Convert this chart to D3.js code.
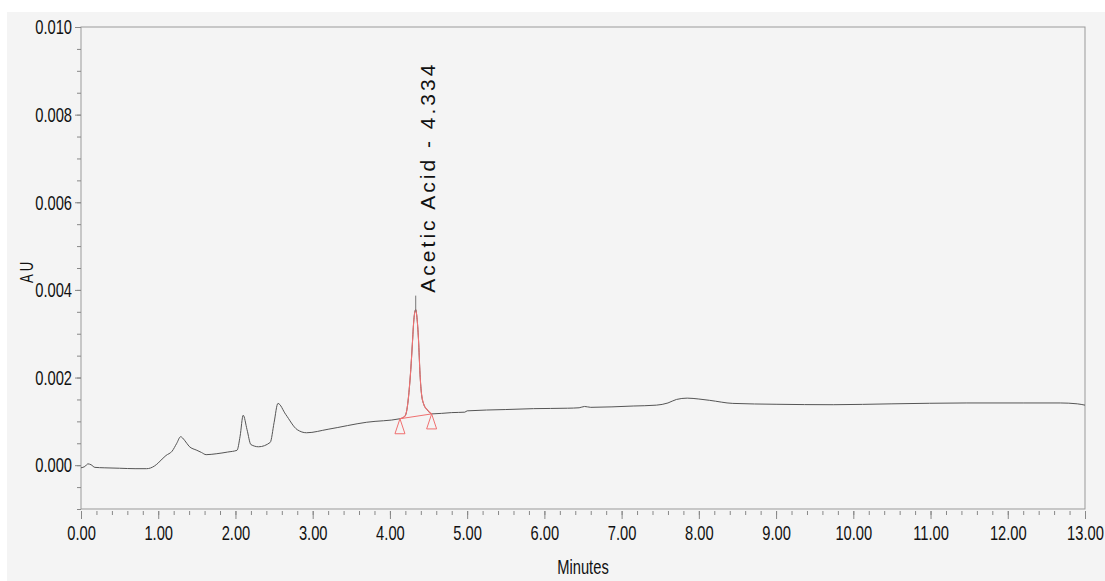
<!DOCTYPE html>
<html>
<head>
<meta charset="utf-8">
<script src="https://cdn.jsdelivr.net/npm/d3@7"></script>
<style>
  html, body { margin: 0; padding: 0; background: #fff; }
  svg { display: block; }
</style>
</head>
<body>
<svg id="chart"></svg>
<script>
// chromatogram trace (minutes, AU)
const times = [0.00, 0.05, 0.09, 0.13, 0.18, 0.30, 0.50, 0.70, 0.85, 0.95,
  1.00, 1.05, 1.10, 1.18, 1.24, 1.29, 1.34, 1.40, 1.50, 1.56, 1.62, 1.75, 1.90,
  2.02, 2.06, 2.10, 2.15, 2.20, 2.30, 2.45, 2.50, 2.55, 2.65, 2.80, 2.92,
  3.20, 3.70, 4.13, 4.195, 4.22, 4.25, 4.27, 4.29, 4.31, 4.334, 4.35, 4.37,
  4.39, 4.41, 4.44, 4.48, 4.54, 4.80, 4.97, 5.00, 5.50, 5.86, 6.30, 6.45,
  6.52, 6.60, 7.15, 7.45, 7.60, 7.71, 7.85, 8.00, 8.14, 8.44, 9.00, 9.74,
  10.50, 11.47, 12.20, 12.68, 12.90, 13.00];
const au = [-0.00006, -0.00003, 0.00003, 0.00001, -0.00005, -0.00006, -0.00007, -0.00008, -0.00008, -0.00002,
  0.00005, 0.00014, 0.00022, 0.00032, 0.00050, 0.00065, 0.00057, 0.00043, 0.00034, 0.00029, 0.00024, 0.00026, 0.00030,
  0.00034, 0.00066, 0.00114, 0.00081, 0.00047, 0.00042, 0.00052, 0.00097, 0.00141, 0.00116, 0.00081, 0.00074,
  0.00082, 0.00098, 0.00106, 0.00112, 0.00127, 0.00173, 0.00218, 0.00275, 0.00332, 0.00355, 0.00337, 0.00287,
  0.00207, 0.00161, 0.00138, 0.00127, 0.00117, 0.00120, 0.00121, 0.00124, 0.00127, 0.00129, 0.00130, 0.00131,
  0.00134, 0.00132, 0.00135, 0.00137, 0.00142, 0.00150, 0.00153, 0.00151, 0.00148, 0.00141, 0.00139, 0.00138,
  0.00140, 0.00142, 0.00142, 0.00142, 0.00140, 0.00137];

// integrated peak
const peakName = "Acetic Acid";
const peakTime = 4.334;
const peakStart = 4.13;
const peakEnd = 4.54;

// axes
const xMajor = d3.range(0, 13.001, 1);
const xMinor = d3.range(0, 13.001, 0.2);
const yMajor = [0, 0.002, 0.004, 0.006, 0.008, 0.010];
const yMinor = d3.range(-0.001, 0.01001, 0.0005);

const width = 1105;
const height = 581;
const margin = { top: 27, right: 20, bottom: 72, left: 81 };

const data = times.map((t, i) => ({ t: t, v: au[i] }));

const svg = d3.select("#chart").attr("width", width).attr("height", height);

// grey panel
svg.append("rect")
  .attr("x", 7).attr("y", 12)
  .attr("width", width - 7).attr("height", height - 12)
  .attr("fill", "#f4f4f4");

const xScale = d3.scaleLinear()
  .domain([0, 13])
  .range([margin.left, width - margin.right]);

const yScale = d3.scaleLinear()
  .domain([-0.001, 0.010])
  .range([height - margin.bottom, margin.top]);

const sans = "'Liberation Sans', Arial, sans-serif";

// frame
svg.append("rect")
  .attr("x", xScale(0)).attr("y", yScale(0.010))
  .attr("width", xScale(13) - xScale(0))
  .attr("height", yScale(-0.001) - yScale(0.010))
  .attr("fill", "none")
  .attr("stroke", "#999")
  .attr("stroke-width", 1);

// x axis (ticks sit a little below the frame)
const xg = svg.append("g")
  .attr("transform", `translate(0, ${height - margin.bottom + 2})`);
xg.append("g")
  .call(d3.axisBottom(xScale).tickValues(xMinor).tickSize(4).tickFormat(""))
  .call((g) => g.select(".domain").remove());
xg.append("g")
  .call(d3.axisBottom(xScale).tickValues(xMajor).tickSize(8).tickPadding(6)
    .tickFormat(d3.format(".2f")))
  .call((g) => g.select(".domain").remove());

// y axis
const yg = svg.append("g").attr("transform", `translate(${margin.left}, 0)`);
yg.append("g")
  .call(d3.axisLeft(yScale).tickValues(yMinor).tickSize(4).tickFormat(""))
  .call((g) => g.select(".domain").remove());
yg.append("g")
  .call(d3.axisLeft(yScale).tickValues(yMajor).tickSize(6).tickPadding(3)
    .tickFormat(d3.format(".3f")))
  .call((g) => g.select(".domain").remove());

svg.selectAll(".tick line").attr("stroke", "#888");
svg.selectAll(".tick text")
  .attr("fill", "#111")
  .style("font-family", sans)
  .style("font-size", "21px");

// axis titles
svg.append("text")
  .attr("x", (xScale(0) + xScale(13)) / 2)
  .attr("y", height - 7)
  .attr("text-anchor", "middle")
  .attr("fill", "#111")
  .style("font-family", sans)
  .style("font-size", "21px")
  .text("Minutes");

// condensed look: squeeze the glyphs horizontally
svg.selectAll("text").each(function () {
  if (this.textContent.length) {
    const w = this.getComputedTextLength();
    d3.select(this).attr("textLength", w * 0.7).attr("lengthAdjust", "spacingAndGlyphs");
  }
});

svg.append("text")
  .attr("transform", `translate(33, ${yScale(0.0044)}) rotate(-90)`)
  .attr("text-anchor", "middle")
  .attr("fill", "#111")
  .attr("textLength", 21)
  .attr("lengthAdjust", "spacingAndGlyphs")
  .style("font-family", sans)
  .style("font-size", "19px")
  .text("A U");

const line = d3.line()
  .x((d) => xScale(d.t))
  .y((d) => yScale(d.v))
  .curve(d3.curveMonotoneX);

// full trace
svg.append("path")
  .datum(data)
  .attr("fill", "none")
  .attr("stroke", "#555")
  .attr("stroke-width", 1)
  .attr("d", line);

// integrated peak in red
const peak = data.filter((d) => d.t >= peakStart && d.t <= peakEnd);
svg.append("path")
  .datum(peak)
  .attr("fill", "none")
  .attr("stroke", "#f07070")
  .attr("stroke-width", 1.1)
  .attr("d", line);

const startPt = peak[0];
const endPt = peak[peak.length - 1];
svg.append("line")
  .attr("x1", xScale(startPt.t)).attr("y1", yScale(startPt.v))
  .attr("x2", xScale(endPt.t)).attr("y2", yScale(endPt.v))
  .attr("stroke", "#f07070")
  .attr("stroke-width", 1);

// start / end markers
[startPt, endPt].forEach((p) => {
  const px = xScale(p.t);
  const py = yScale(p.v);
  svg.append("path")
    .attr("d", `M${px},${py}L${px + 5},${py + 15}L${px - 5},${py + 15}Z`)
    .attr("fill", "none")
    .attr("stroke", "#f07070")
    .attr("stroke-width", 1);
});

// peak label
const apex = data.find((d) => d.t === peakTime);
const apexY = yScale(apex.v);
svg.append("line")
  .attr("x1", xScale(peakTime)).attr("x2", xScale(peakTime))
  .attr("y1", apexY + 2).attr("y2", apexY - 14)
  .attr("stroke", "#777")
  .attr("stroke-width", 1);

svg.append("text")
  .attr("transform", `translate(${xScale(peakTime) + 19}, ${apexY - 17}) rotate(-90)`)
  .attr("text-anchor", "start")
  .attr("fill", "#111")
  .attr("textLength", 228)
  .attr("lengthAdjust", "spacing")
  .style("font-family", sans)
  .style("font-size", "21px")
  .text(`${peakName} - ${peakTime.toFixed(3)}`);
</script>
</body>
</html>
